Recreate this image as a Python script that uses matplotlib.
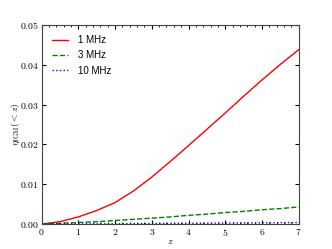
import numpy as np
import matplotlib
matplotlib.use("Agg")
import matplotlib.pyplot as plt
from matplotlib.ticker import MultipleLocator, FuncFormatter

plt.rcParams['mathtext.fontset'] = 'cm'

z = [0.0, 0.5, 1.0, 1.5, 2.0, 2.5, 3.0, 3.5, 4.0, 4.5, 5.0, 5.5, 6.0, 6.5, 7.0]
eta_1mhz = [0.0, 0.0006, 0.0018, 0.0034, 0.0054, 0.0083, 0.0118, 0.0157, 0.0197,
            0.0238, 0.0279, 0.0321, 0.0362, 0.0401, 0.0438]
eta_3mhz = [0.0, 0.0002, 0.0004, 0.0006, 0.0009, 0.0012, 0.0015, 0.0018, 0.0022,
            0.0025, 0.0029, 0.0032, 0.0036, 0.0039, 0.0043]
eta_10mhz = [0.0, 0.00001, 0.00003, 0.00005, 0.00008, 0.0001, 0.00013, 0.00016, 0.0002,
             0.00023, 0.00026, 0.00029, 0.00032, 0.00036, 0.0004]

fig = plt.figure(figsize=(3.32, 2.49), dpi=100)
ax = fig.add_subplot(111)

ax.plot(z, eta_1mhz, 'r-', lw=1.0, label='1 MHz')
ax.plot(z, eta_3mhz, 'g--', lw=1.0, label='3 MHz')
ax.plot(z, eta_10mhz, 'b:', lw=1.0, label='10 MHz')

ax.set_xlim(0, 7)
ax.set_ylim(0, 0.05)
ax.xaxis.set_major_locator(MultipleLocator(1))
ax.xaxis.set_minor_locator(MultipleLocator(0.2))
ax.yaxis.set_major_locator(MultipleLocator(0.01))
ax.xaxis.set_major_formatter(FuncFormatter(lambda v, p: '$%d$' % v))
ax.yaxis.set_major_formatter(FuncFormatter(lambda v, p: '$%.2f$' % v))
ax.tick_params(which='both', direction='in', top=True, right=True, labelsize=7, pad=2)
ax.tick_params(which='major', length=3)
ax.tick_params(which='minor', length=1.5)
for s in ax.spines.values():
    s.set_color('#444444')

ax.set_xlabel('$z$', fontsize=7, labelpad=-1)
ax.set_ylabel(r'$\eta_{\rm IGM}(<z)$', fontsize=7, labelpad=-1.5)

ax.legend(loc='upper left', frameon=False, prop={'family': 'Liberation Sans', 'size': 7},
          handlelength=1.65, handletextpad=1.1, labelspacing=0.55, borderaxespad=0.65)

fig.subplots_adjust(left=0.125, right=0.9, bottom=0.1, top=0.9)
fig.savefig('out.png', dpi=100)
